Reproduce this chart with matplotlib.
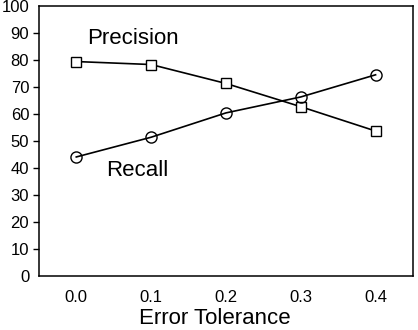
import matplotlib
matplotlib.use('Agg')
import matplotlib.pyplot as plt

plt.rcParams['font.family'] = ['Liberation Sans', 'DejaVu Sans']

tolerance = [0.0, 0.1, 0.2, 0.3, 0.4]
precision = [79.3, 78.2, 71.2, 62.6, 53.6]
recall = [44.0, 51.3, 60.3, 66.2, 74.4]

fig = plt.figure(figsize=(4.18, 3.30), dpi=100)
ax = fig.add_axes([0.093, 0.164, 0.895, 0.819])

ax.plot(tolerance, precision, color='black', lw=1.2, marker='s', ms=7,
        mfc='white', mec='black', mew=1.0)
ax.plot(tolerance, recall, color='black', lw=1.2, marker='o', ms=8,
        mfc='none', mec='black', mew=1.0)

ax.text(0.076, 88.0, 'Precision', fontsize=16, ha='center', va='center')
ax.text(0.081, 39.0, 'Recall', fontsize=16, ha='center', va='center')

ax.set_xlim(-0.05, 0.45)
ax.set_ylim(0, 100)
ax.set_xticks(tolerance)
ax.set_xticklabels(['%.1f' % t for t in tolerance])
ax.set_yticks(range(0, 101, 10))
ax.tick_params(axis='x', length=0, pad=10, labelsize=12)
ax.tick_params(axis='y', length=4, width=1, labelsize=12, pad=3)
yt = ax.yaxis.get_major_ticks()
yt[0].tick1line.set_visible(False)
yt[-1].tick1line.set_visible(False)
for s in ax.spines.values():
    s.set_linewidth(1.1)

ax.set_xlabel('Error Tolerance', fontsize=16)
ax.xaxis.set_label_coords(0.47, -0.118)

fig.savefig('out.png', dpi=100)
